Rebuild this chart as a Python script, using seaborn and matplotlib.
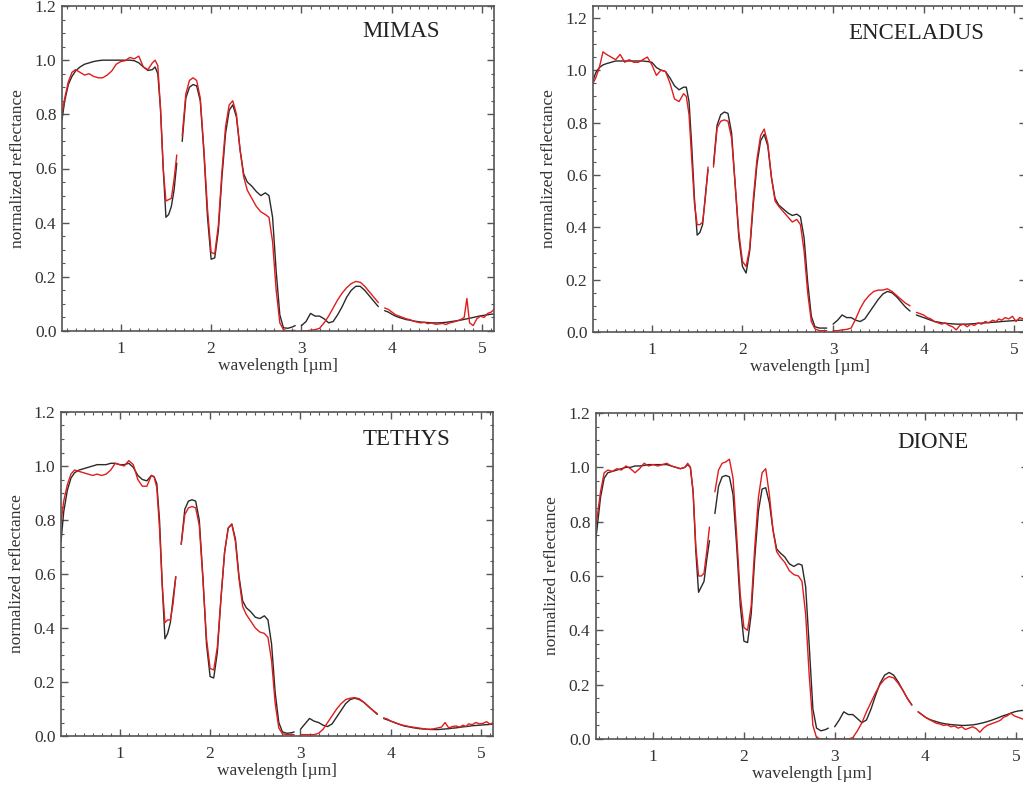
import numpy as np
import pandas as pd
import matplotlib
matplotlib.use("Agg")
import matplotlib.pyplot as plt
from matplotlib.ticker import MultipleLocator
import seaborn as sns

nan = np.nan

# Longitud de onda común (µm); los NaN marcan huecos del espectro
wavelength = [
    0.35, 0.38, 0.42, 0.46, 0.50, 0.55, 0.60, 0.65, 0.70, 0.75,
    0.80, 0.85, 0.90, 0.95, 1.00, 1.05, 1.10, 1.15, 1.20, 1.25,
    1.30, 1.35, 1.38, 1.41, 1.44, 1.47, 1.50, 1.53, 1.56, 1.59,
    1.62, 1.65,
    1.68, 1.72, 1.76, 1.80, 1.84, 1.88, 1.92, 1.96,
    2.00, 2.04, 2.08, 2.12, 2.16, 2.20, 2.24, 2.28, 2.32, 2.36,
    2.40, 2.45, 2.50, 2.55, 2.60, 2.64, 2.68, 2.72, 2.76, 2.80,
    2.85, 2.90, 2.93, 2.96,
    3.00, 3.05, 3.10, 3.15, 3.20, 3.25, 3.30, 3.35, 3.40, 3.45,
    3.50, 3.55, 3.60, 3.65, 3.70, 3.75, 3.80, 3.85, 3.88,
    3.92, 3.96, 4.00, 4.04, 4.08, 4.12, 4.16, 4.20, 4.24, 4.28,
    4.32, 4.36, 4.40, 4.44, 4.48, 4.52, 4.56, 4.60, 4.64, 4.68,
    4.72, 4.76, 4.80, 4.83, 4.86, 4.90, 4.94, 4.98, 5.02, 5.06,
    5.10, 5.13,
]

# MIMAS
mimas_model = [
    .78, .85, .91, .94, .96, .975, .985, .99, .995, .998,
    1.0, 1.0, 1.0, 1.0, 1.0, 1.0, 1.0, .998, .99, .975,
    .962, .965, .975, .95, .82, .60, .42, .43, .46, .52,
    .62, nan,
    .70, .86, .90, .91, .905, .85, .66, .42,
    .265, .27, .37, .57, .73, .815, .835, .79, .67, .58,
    .55, .535, .515, .50, .51, .50, .42, .22, .06, .012,
    .01, .015, .02, nan,
    .02, .035, .065, .055, .055, .045, .03, .035, .06, .09,
    .125, .15, .165, .165, .15, .13, .11, .09, nan,
    .075, .07, .062, .055, .05, .046, .042, .04, .037, .035,
    .033, .032, .031, .03, .03, .03, .031, .032, .034, .036,
    .038, .04, .043, .045, .047, .05, .053, .056, .058, .06,
    .062, .063,
]
mimas_data = [
    .80, .86, .92, .955, .965, .955, .945, .95, .94, .935,
    .935, .945, .96, .985, .995, .998, 1.01, 1.005, 1.015, .975,
    .965, .99, 1.0, .98, .82, .60, .48, .485, .49, .56,
    .65, nan,
    .72, .875, .925, .935, .925, .86, .67, .45,
    .29, .285, .39, .59, .755, .835, .85, .80, .67, .57,
    .52, .49, .46, .44, .43, .42, .33, .15, .03, .005,
    .0, .002, .002, nan,
    .0, .0, .003, .005, .01, .03, .055, .085, .115, .14,
    .16, .175, .183, .18, .165, .145, .125, .105, nan,
    .085, .08, .07, .06, .055, .05, .045, .042, .036, .033,
    .03, .032, .027, .03, .025, .026, .028, .024, .03, .033,
    .037, .042, .05, .12, .03, .02, .045, .055, .05, .065,
    .07, .08,
]

# ENCELADUS
enceladus_model = [
    .96, .99, 1.01, 1.02, 1.025, 1.03, 1.035, 1.035, 1.035, 1.035,
    1.035, 1.035, 1.035, 1.033, 1.03, 1.01, 1.0, .995, .97, .94,
    .925, .935, .935, .88, .71, .51, .37, .38, .41, .52,
    .62, nan,
    .64, .79, .83, .84, .835, .76, .56, .36,
    .25, .225, .31, .49, .64, .73, .755, .71, .59, .51,
    .485, .47, .455, .445, .45, .44, .36, .19, .06, .02,
    .015, .015, .015, nan,
    .03, .045, .065, .055, .055, .045, .04, .05, .075, .10,
    .125, .145, .155, .15, .135, .115, .095, .08, nan,
    .065, .06, .055, .05, .045, .04, .038, .035, .033, .032,
    .031, .03, .03, .03, .03, .031, .032, .033, .034, .035,
    .036, .037, .038, .039, .04, .041, .042, .043, .044, .045,
    .045, .046,
]
enceladus_data = [
    .95, .97, 1.01, 1.07, 1.06, 1.05, 1.04, 1.06, 1.03, 1.04,
    1.03, 1.03, 1.04, 1.05, 1.02, .98, 1.0, .995, .95, .89,
    .88, .91, .90, .83, .66, .49, .41, .41, .42, .51,
    .63, nan,
    .63, .78, .805, .81, .805, .74, .56, .38,
    .27, .25, .32, .51, .66, .75, .775, .72, .59, .50,
    .48, .46, .44, .42, .43, .41, .31, .15, .04, .012,
    .005, .005, .005, nan,
    .005, .005, .008, .01, .015, .05, .09, .12, .14, .155,
    .16, .16, .165, .155, .14, .125, .11, .10, nan,
    .075, .07, .065, .055, .05, .04, .035, .03, .035, .025,
    .02, .008, .025, .03, .02, .03, .025, .035, .03, .04,
    .035, .045, .04, .05, .045, .055, .05, .06, .04, .055,
    .05, .06,
]

# TETHYS
tethys_model = [
    .72, .83, .91, .955, .975, .985, .99, .995, 1.0, 1.005,
    1.005, 1.005, 1.01, 1.01, 1.005, 1.005, 1.01, .995, .965, .95,
    .945, .965, .96, .935, .80, .56, .36, .38, .42, .51,
    .59, nan,
    .71, .84, .87, .875, .87, .80, .59, .34,
    .22, .215, .31, .51, .68, .77, .785, .73, .59, .50,
    .475, .46, .44, .435, .445, .43, .34, .16, .05, .015,
    .01, .012, .015, nan,
    .025, .045, .065, .055, .05, .04, .035, .045, .07, .095,
    .12, .135, .14, .135, .125, .11, .095, .08, nan,
    .065, .06, .055, .05, .045, .04, .036, .034, .031, .029,
    .027, .026, .025, .024, .024, .024, .025, .026, .027, .029,
    .03, .032, .034, .035, .036, .038, .039, .04, .041, .042,
    .043, .044,
]
tethys_data = [
    .79, .87, .93, .97, .985, .98, .975, .97, .965, .97,
    .965, .97, .985, 1.01, 1.005, 1.0, 1.02, 1.005, .95, .925,
    .925, .965, .96, .92, .77, .56, .42, .43, .43, .49,
    .59, nan,
    .71, .82, .845, .85, .845, .78, .58, .36,
    .25, .245, .33, .51, .68, .77, .785, .72, .58, .48,
    .45, .425, .40, .385, .38, .365, .28, .12, .03, .008,
    .005, .005, .005, nan,
    .005, .005, .005, .005, .01, .025, .05, .075, .10, .12,
    .135, .14, .142, .138, .125, .11, .095, .083, nan,
    .067, .063, .055, .05, .045, .041, .038, .035, .033, .031,
    .029, .027, .025, .025, .027, .03, .033, .05, .03, .035,
    .037, .033, .04, .035, .045, .042, .05, .045, .047, .053,
    .043, .05,
]

# DIONE
dione_model = [
    .69, .77, .89, .96, .98, .985, .99, .995, 1.0, 1.0,
    1.005, 1.005, 1.007, 1.01, 1.01, 1.01, 1.01, 1.01, 1.005, 1.0,
    .995, 1.0, 1.01, 1.0, .91, .69, .54, .56, .58, .66,
    .73, nan,
    .83, .93, .965, .97, .965, .90, .71, .49,
    .36, .355, .46, .67, .84, .92, .925, .87, .77, .70,
    .685, .67, .645, .635, .645, .64, .56, .34, .11, .04,
    .03, .035, .04, nan,
    .045, .07, .10, .09, .09, .075, .06, .07, .11, .16,
    .205, .235, .245, .235, .21, .18, .15, .125, nan,
    .10, .09, .08, .073, .068, .064, .06, .057, .055, .053,
    .052, .051, .05, .05, .051, .052, .054, .057, .06, .064,
    .068, .073, .078, .082, .086, .09, .095, .10, .103, .105,
    .105, .104,
]
dione_data = [
    .76, .81, .91, .98, .99, .985, .995, .99, 1.005, .995,
    .98, .995, 1.015, 1.005, 1.01, 1.005, 1.01, 1.015, 1.005, 1.0,
    .995, 1.0, 1.015, 1.0, .91, .71, .60, .60, .61, .69,
    .78, nan,
    .91, .99, 1.015, 1.02, 1.03, .96, .75, .53,
    .41, .40, .49, .71, .89, .98, .995, .90, .77, .69,
    .67, .65, .62, .605, .60, .58, .46, .23, .05, .005,
    .0, .0, .0, nan,
    .0, .0, .0, .0, .005, .03, .06, .10, .135, .17,
    .20, .22, .23, .225, .205, .18, .15, .125, nan,
    .10, .09, .08, .072, .065, .058, .055, .05, .052, .045,
    .048, .04, .045, .035, .04, .045, .038, .025, .04, .05,
    .055, .06, .065, .07, .08, .085, .095, .085, .08, .075,
    .07, .07,
]

moons = ["MIMAS", "ENCELADUS", "TETHYS", "DIONE"]
models = [mimas_model, enceladus_model, tethys_model, dione_model]
datas = [mimas_data, enceladus_data, tethys_data, dione_data]

W, H = 1023, 789
# posiciones de los ejes en pixeles: izquierda, derecha, arriba, abajo
boxes = [(62, 494, 6, 331), (593, 1026, 6, 332), (61, 493, 412, 736), (596, 1028, 413, 739)]
xlims = [(0.35, 5.13), (0.35, 5.13), (0.35, 5.13), (0.37, 5.13)]
ylims = [(0, 1.2), (0, 1.245), (0, 1.2), (0, 1.2)]
name_pos = [(0.694, 0.923), (0.589, 0.917), (0.699, 0.914), (0.697, 0.908)]

sns.set_style("ticks")
plt.rcParams['font.family'] = ['Liberation Serif', 'DejaVu Serif']
plt.rcParams['mathtext.fontset'] = 'stix'

fig = plt.figure(figsize=(W / 100, H / 100), dpi=100)

frames = []
for name, model, data in zip(moons, models, datas):
    for kind, vals in (("model", model), ("data", data)):
        d = pd.DataFrame({"wavelength": wavelength, "reflectance": vals})
        d["segment"] = d["reflectance"].isna().cumsum()
        d["kind"] = kind
        d["moon"] = name
        frames.append(d.dropna())
df = pd.concat(frames, ignore_index=True)

palette = {"model": "#2a2a2a", "data": "#e01c1c"}
edge = "#555555"

for i, name in enumerate(moons):
    l, r, t, b = boxes[i]
    ax = fig.add_axes([l / W, 1 - b / H, (r - l) / W, (b - t) / H])
    sub = df[df["moon"] == name]
    sns.lineplot(data=sub, x="wavelength", y="reflectance", hue="kind",
                 hue_order=["model", "data"], units="segment", estimator=None,
                 palette=palette, linewidth=1.0, sort=False, legend=False, ax=ax)
    ax.set_xlim(*xlims[i])
    ax.set_ylim(*ylims[i])
    ax.xaxis.set_major_locator(MultipleLocator(1))
    ax.xaxis.set_minor_locator(MultipleLocator(0.1))
    ax.yaxis.set_major_locator(MultipleLocator(0.2))
    ax.yaxis.set_minor_locator(MultipleLocator(0.05))
    ax.yaxis.set_major_formatter(matplotlib.ticker.FormatStrFormatter("%.1f"))
    ax.tick_params(which="both", direction="in", top=True, right=True,
                   color=edge, labelcolor="#333333", labelsize=12.5)
    ax.tick_params(which="major", length=5, width=1.0)
    ax.tick_params(which="minor", length=2.5, width=0.8)
    ax.tick_params(axis="x", which="major", pad=7)
    ax.tick_params(axis="y", which="major", pad=4)
    for s in ax.spines.values():
        s.set_color(edge)
        s.set_linewidth(1.2)
    ax.set_xlabel("wavelength [µm]", fontsize=12.5, color="#333333", labelpad=1)
    ax.set_ylabel("normalized reflectance", fontsize=12.5, color="#333333", labelpad=6)
    ax.text(name_pos[i][0], name_pos[i][1], name, transform=ax.transAxes,
            fontsize=16.5, color="#222222", ha="left", va="center")

fig.savefig("out.png", dpi=100)
